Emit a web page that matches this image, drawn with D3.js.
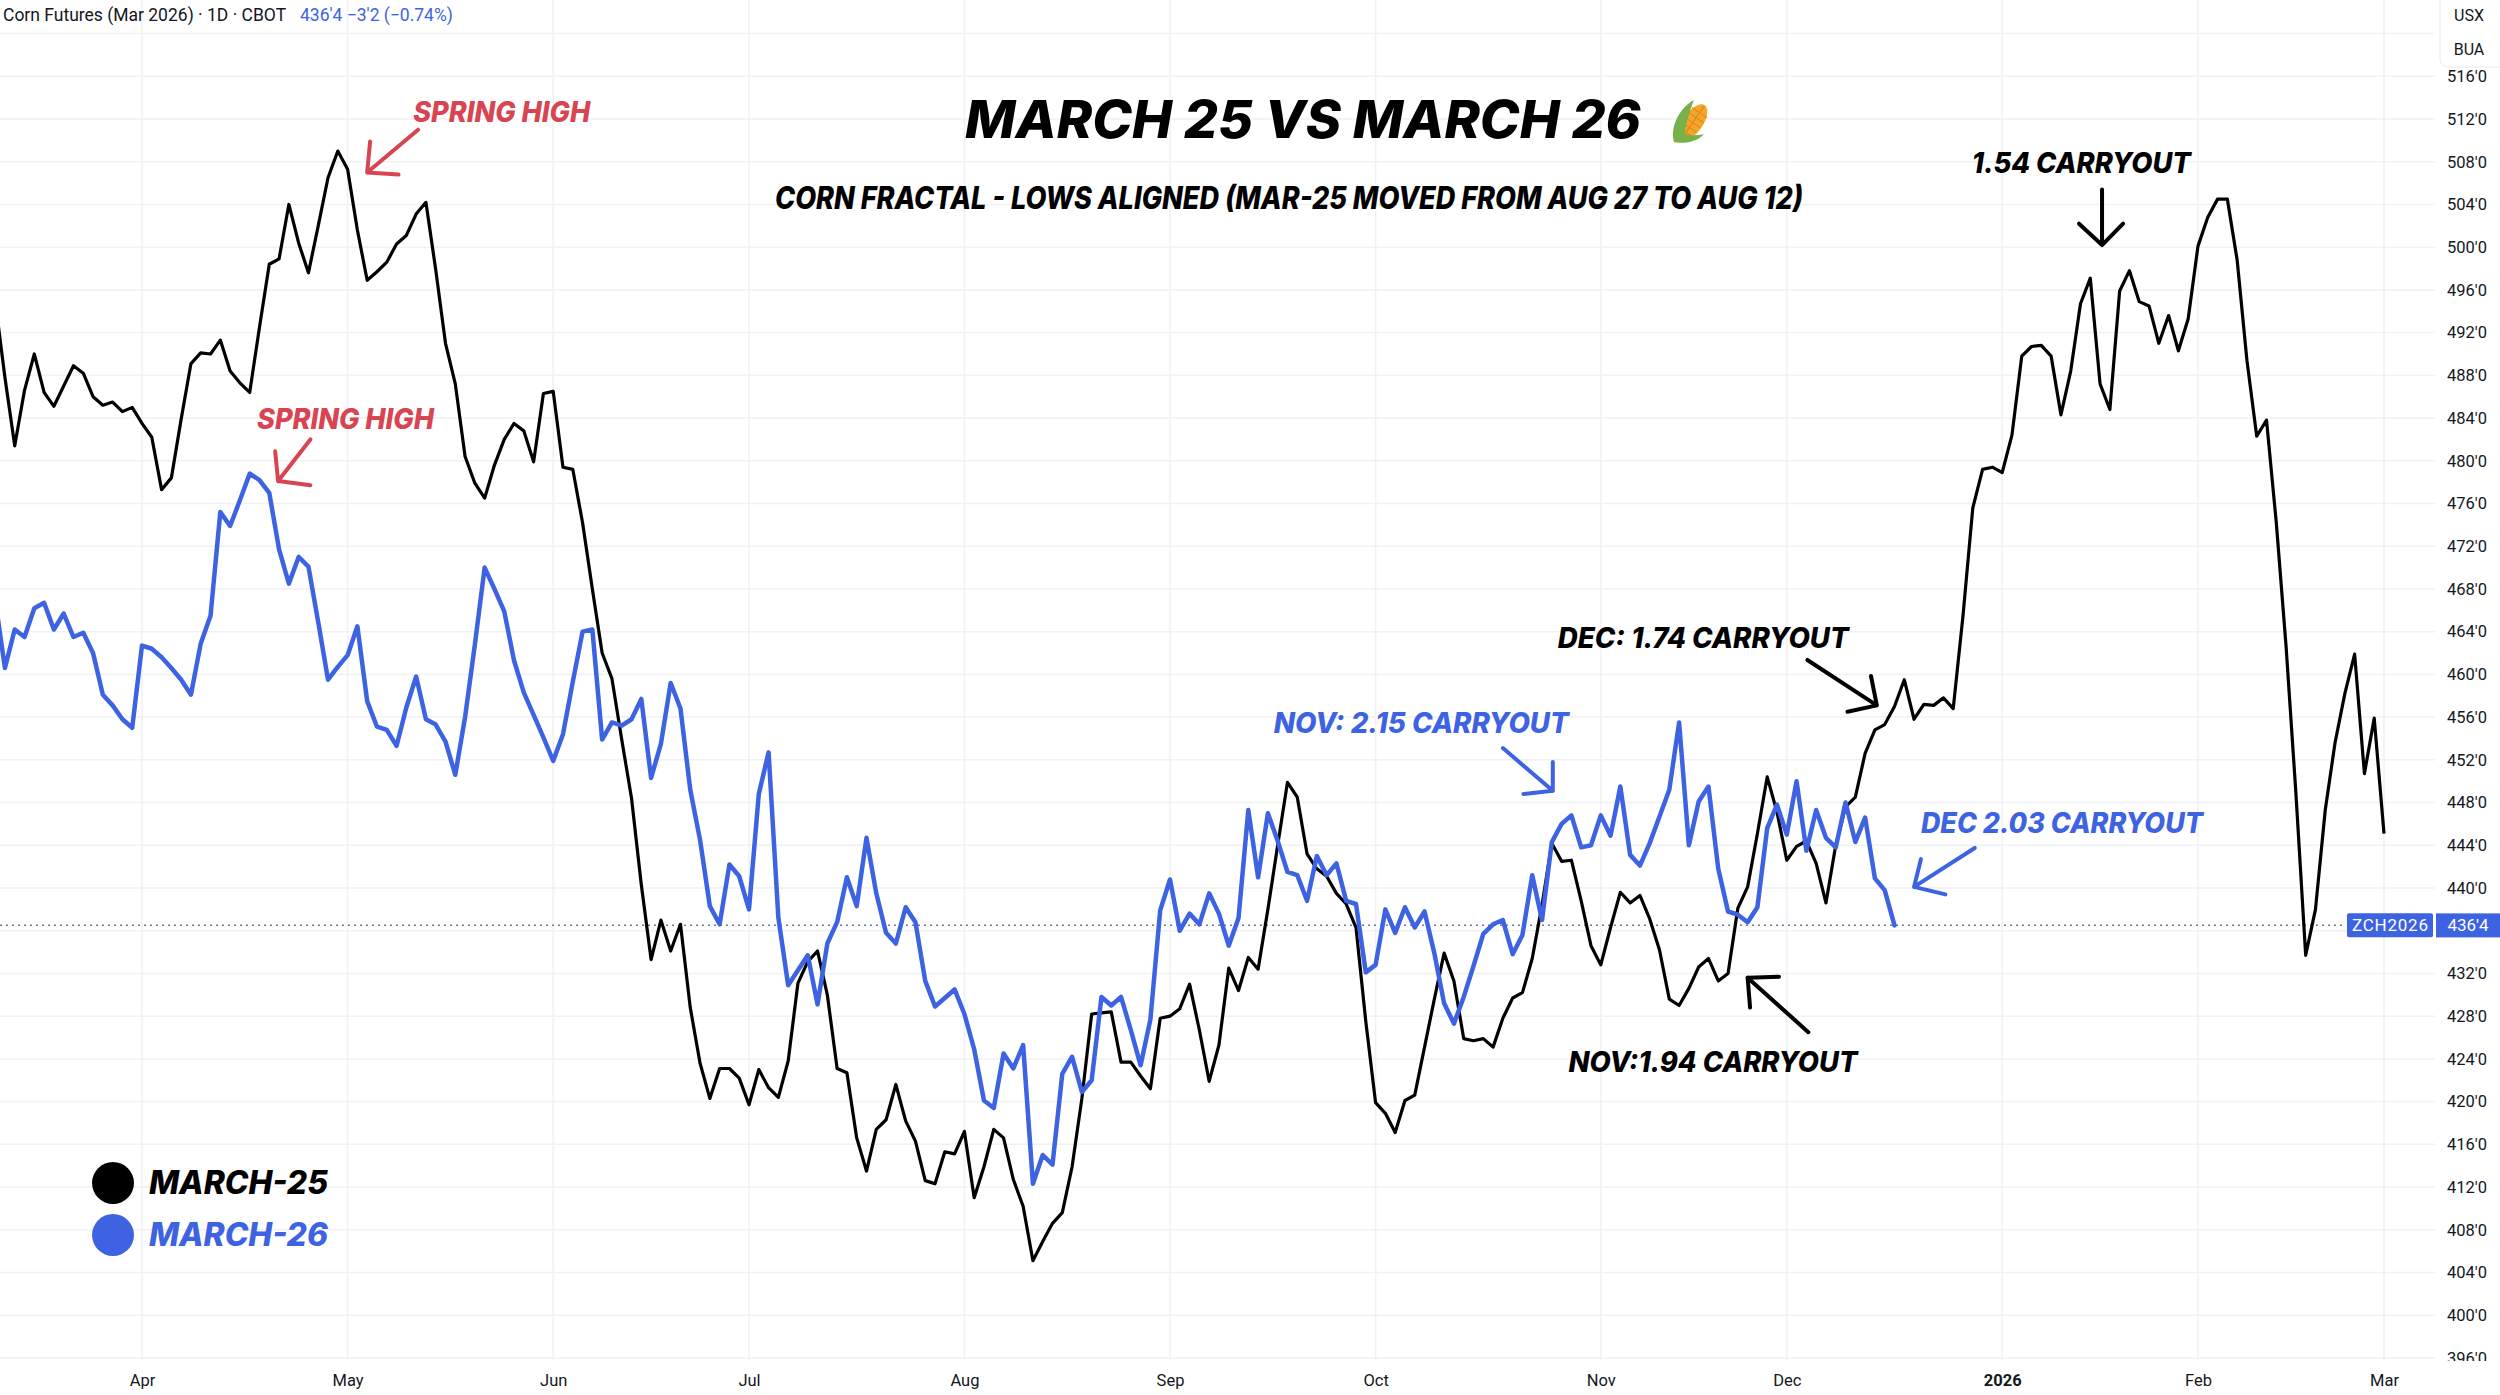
<!DOCTYPE html>
<html>
<head>
<meta charset="utf-8">
<script src="https://cdn.jsdelivr.net/npm/d3@7"></script>
<style>
  body { margin: 0; background: #fff; }
  svg { display: block; }
  text { font-family: Roboto, "Noto Sans", sans-serif; }
  .note { font-family: Inter, "Open Sans", sans-serif; font-weight: 800; font-style: italic; }
</style>
</head>
<body>
<svg id="chart" width="2500" height="1395"></svg>
<script>
// x is a trading-session index, 0 = first session of April 2025
const monthTickIdx = [0, 21, 42, 62, 84, 105, 126, 149, 168, 190, 210, 229];
const monthLabels = ["Apr", "May", "Jun", "Jul", "Aug", "Sep", "Oct", "Nov", "Dec", "2026", "Feb", "Mar"];
const priceTicks = [396, 400, 404, 408, 412, 416, 420, 424, 428, 432, 436, 440, 444, 448, 452, 456,
  460, 464, 468, 472, 476, 480, 484, 488, 492, 496, 500, 504, 508, 512, 516, 520];

// March-25 contract, shifted so its lows line up (one value per session)
const march25Start = -15;
const march25 = [
  495, 487.8, 481.4, 486.6, 490, 486.4, 485.1, 487, 488.9, 488.2,
  486, 485.2, 485.5, 484.6, 485, 483.5, 482.2, 477.3, 478.4, 483.9,
  489.1, 490.1, 490, 491.3, 488.4, 487.3, 486.4, 492.5, 498.4, 498.9,
  504, 500.4, 497.6, 502, 506.5, 509, 507.3, 501.6, 496.9, 497.7,
  498.6, 500.3, 501.1, 503.1, 504.2, 497.9, 491, 487.2, 480.4, 477.9,
  476.5, 479.6, 482, 483.5, 482.8, 479.9, 486.3, 486.5, 479.4, 479.2,
  474.2, 468, 462, 459.6, 453.9, 448.4, 440.3, 433.3, 437, 434.1,
  436.6, 428.8, 423.6, 420.3, 423.1, 423.1, 422.2, 419.7, 423, 421.3,
  420.4, 423.8, 431.1, 433.1, 434.1, 430, 423.1, 422.7, 416.6, 413.5,
  417.4, 418.3, 421.6, 418.2, 416.3, 412.6, 412.3, 415.3, 415.1, 417.2,
  411, 413.9, 417.4, 416.6, 412.7, 410.2, 405.1, 406.9, 408.6, 409.6,
  413.9, 420.3, 428.2, 428.3, 428.4, 423.7, 423.7, 422.4, 421.2, 427.8,
  428, 428.7, 431, 426.7, 421.9, 425.3, 432.5, 430.4, 433.5, 432.4,
  438, 444, 449.9, 448.5, 443.2, 441.8, 441.1, 439.5, 438.5, 436.3,
  427.5, 419.9, 418.9, 417.1, 420.1, 420.6, 425.1, 429.6, 433.9, 431.3,
  425.9, 425.7, 425.9, 425.1, 427.8, 429.7, 430.2, 433.4, 438.4, 444.2,
  442.5, 442.6, 438.8, 434.6, 432.8, 436.3, 439.6, 438.6, 439.3, 437.1,
  434.2, 429.6, 429, 430.6, 432.6, 433.4, 431.3, 432, 438.1, 440.1,
  445.1, 450.4, 447.1, 442.6, 443.9, 444.4, 442.3, 438.6, 444, 447.6,
  448.5, 452.6, 454.8, 455.3, 457, 459.5, 455.8, 457.2, 457.1, 457.8,
  456.8, 465.5, 475.6, 479.2, 479.4, 478.9, 482.4, 489.8, 490.7, 490.8,
  489.8, 484.3, 488.4, 494.7, 497.1, 487.2, 484.8, 495.9, 497.8, 494.9,
  494.5, 491, 493.6, 490.3, 493.3, 500.1, 502.8, 504.5, 504.5, 498.8,
  489.4, 482.3, 483.8, 474.2, 462.6, 448.9, 433.7, 438, 447.3, 453.6,
  458.2, 461.9, 450.7, 455.9, 445.1
];

// March-26 contract (current)
const march26Start = -15;
const march26 = [
  467, 460.6, 464.2, 463.5, 466.2, 466.7, 464.2, 465.7, 463.5, 463.9,
  462, 458.1, 457.1, 455.8, 455, 462.7, 462.4, 461.6, 460.6, 459.5,
  458.1, 462.9, 465.5, 475.2, 473.9, 476.3, 478.8, 478.2, 477, 471.7,
  468.5, 471, 470.1, 464.9, 459.5, 460.7, 461.8, 464.5, 457.5, 455.1,
  454.8, 453.3, 456.9, 459.8, 455.8, 455.3, 453.7, 450.6, 456, 462.8,
  470, 468, 465.9, 461.3, 458.3, 456.2, 454.1, 451.9, 454.4, 459.3,
  464, 464.2, 453.9, 455.5, 455.2, 455.8, 457.7, 450.3, 453.5, 459.2,
  456.8, 449.2, 444.5, 438.3, 436.6, 442.2, 441.1, 438, 448.8, 452.7,
  437.2, 430.9, 432.3, 433.7, 429.1, 434.8, 436.8, 441, 438.3, 444.7,
  439.5, 435.8, 434.8, 438.2, 436.8, 431.3, 428.9, 429.7, 430.5, 428.2,
  424.9, 420.1, 419.4, 424.5, 423.1, 425.3, 412.3, 415, 414.1, 422.6,
  424.2, 420.9, 422, 429.8, 429, 429.8, 426.7, 423.4, 427.7, 437.9,
  440.8, 436, 437.6, 436.6, 439.5, 437.6, 434.6, 437.2, 447.3, 441,
  447, 444.4, 441.5, 441.2, 438.8, 443, 441.2, 442.3, 438.8, 438.5,
  432.1, 432.8, 438, 435.8, 438.2, 436.3, 437.8, 433.9, 429.2, 427.3,
  429.8, 432.7, 435.7, 436.6, 437, 433.8, 435.6, 441.2, 437, 444.3,
  446, 446.8, 443.8, 444, 446.8, 444.9, 449.5, 443.1, 442.1, 444.2,
  446.7, 449.2, 455.5, 444, 448.1, 449.5, 441.8, 437.8, 437.5, 436.8,
  438.2, 445.6, 447.8, 445, 450, 443.5, 447.3, 444.7, 443.8, 448,
  444.3, 446.6, 440.9, 439.8, 436.5
];
const lastPrice = 436.5;

const BLUE = "#3d63e3", RED = "#d84452", INK = "#131722";

// annotations in chart coordinates: [session, price]
const notes = [
  { text: "SPRING HIGH", color: RED, at: [27.7, 512.6], w: 177, size: 28,
    arrow: [[28.2, 511.0], [23.0, 507.0], [23.3, 509.9], [26.2, 506.8]] },
  { text: "SPRING HIGH", color: RED, at: [11.75, 483.9], w: 177, size: 28,
    arrow: [[17.2, 482.0], [13.9, 478.1], [13.6, 480.9], [17.2, 477.7]] },
  { text: "1.54 CARRYOUT", color: "#000", at: [186.9, 507.9], w: 219, size: 29,
    arrow: [[200.2, 505.4], [200.2, 500.2], [197.85, 502.2], [202.35, 502.2]] },
  { text: "DEC: 1.74 CARRYOUT", color: "#000", at: [144.6, 463.4], w: 291, size: 28,
    arrow: [[170.1, 461.35], [177.2, 457.1], [176.6, 459.85], [174.2, 456.5]] },
  { text: "NOV: 2.15 CARRYOUT", color: BLUE, at: [115.6, 455.4], w: 295, size: 28,
    arrow: [[139.0, 453.1], [144.1, 449.1], [144.1, 451.8], [141.1, 448.8]] },
  { text: "NOV:1.94 CARRYOUT", color: "#000", at: [145.7, 423.7], w: 289, size: 28,
    arrow: [[170.2, 426.5], [164.0, 431.6], [164.25, 428.8], [167.2, 431.7]] },
  { text: "DEC 2.03 CARRYOUT", color: BLUE, at: [181.7, 446.1], w: 282, size: 28,
    arrow: [[187.2, 443.75], [181.0, 440.1], [181.7, 442.7], [184.2, 439.4]] }
];

const legendItems = [
  { label: "MARCH-25", color: "#000" },
  { label: "MARCH-26", color: BLUE }
];

const svg = d3.select("#chart");
const plotW = 2435, plotH = 1360;

const x = d3.scaleLinear().domain([0, 229]).range([142, 2384]);
const y = d3.scaleLinear().domain([400, 516]).range([1315.2, 76.3]);

const toPoints = (start, vals) => vals.map((v, k) => ({ i: start + k, v: v }));

const defs = svg.append("defs");
defs.append("clipPath").attr("id", "plotClip")
  .append("rect").attr("x", 0).attr("y", 0).attr("width", plotW).attr("height", plotH);

// grid
const grid = svg.append("g").attr("stroke", "#f0f1f4").attr("stroke-width", 1.5);
grid.selectAll(".hg").data(priceTicks).enter().append("line")
  .attr("x1", 0).attr("x2", plotW)
  .attr("y1", d => y(d)).attr("y2", d => y(d));
grid.selectAll(".vg").data(monthTickIdx).enter().append("line")
  .attr("x1", d => x(d)).attr("x2", d => x(d))
  .attr("y1", 0).attr("y2", plotH);

// last price dotted line
svg.append("line")
  .attr("x1", 0).attr("x2", 2346)
  .attr("y1", y(lastPrice)).attr("y2", y(lastPrice))
  .attr("stroke", "#6f7a99").attr("stroke-width", 1.5)
  .attr("stroke-dasharray", "2,4");

// series
const line = d3.line().x(d => x(d.i)).y(d => y(d.v));
const lines = svg.append("g").attr("clip-path", "url(#plotClip)");
lines.append("path")
  .datum(toPoints(march25Start, march25))
  .attr("d", line).attr("fill", "none")
  .attr("stroke", "#000").attr("stroke-width", 3.2)
  .attr("stroke-linejoin", "round");
lines.append("path")
  .datum(toPoints(march26Start, march26))
  .attr("d", line).attr("fill", "none")
  .attr("stroke", BLUE).attr("stroke-width", 4.5)
  .attr("stroke-linejoin", "round").attr("stroke-linecap", "round");

// price axis (clip is in the axis group's own coordinates)
defs.append("clipPath").attr("id", "axisClip")
  .append("rect").attr("x", -11).attr("y", 0).attr("width", 64).attr("height", plotH + 1);
const yAxis = svg.append("g")
  .attr("transform", "translate(2447,0)")
  .attr("clip-path", "url(#axisClip)")
  .call(d3.axisRight(y).tickValues(priceTicks).tickFormat(d => d + "'0").tickSize(0).tickPadding(0));
yAxis.select(".domain").remove();
yAxis.selectAll("text")
  .attr("fill", INK).style("font-size", "16.5px").style("font-family", "Roboto, sans-serif");

// time axis
const xAxis = svg.append("g")
  .attr("transform", `translate(0,${plotH})`)
  .call(d3.axisBottom(x).tickValues(monthTickIdx).tickFormat((d, k) => monthLabels[k]).tickSize(0));
xAxis.select(".domain").remove();
xAxis.selectAll("text")
  .attr("y", 20).attr("dy", "0.35em")
  .attr("fill", INK).style("font-size", "16.5px").style("font-family", "Roboto, sans-serif")
  .style("font-weight", (d, k) => monthLabels[k] === "2026" ? 700 : 400);

// currency box
svg.append("rect").attr("x", 2440).attr("y", -8).attr("width", 70).attr("height", 75)
  .attr("rx", 8).attr("fill", "#fff").attr("stroke", "#e7e9ef");
svg.append("text").attr("x", 2469).attr("y", 15).attr("dy", "0.35em")
  .attr("text-anchor", "middle").attr("fill", INK).style("font-size", "16px").text("USX");
svg.append("text").attr("x", 2469).attr("y", 49).attr("dy", "0.35em")
  .attr("text-anchor", "middle").attr("fill", INK).style("font-size", "16px").text("BUA");

// last price labels
const ly = y(lastPrice);
svg.append("rect").attr("x", 2347).attr("y", ly - 12).attr("width", 86).attr("height", 24)
  .attr("rx", 2).attr("fill", BLUE);
svg.append("text").attr("x", 2390).attr("y", ly).attr("dy", "0.35em")
  .attr("text-anchor", "middle").attr("fill", "#fff").style("font-size", "17px")
  .attr("textLength", 76).attr("lengthAdjust", "spacing").text("ZCH2026");
svg.append("rect").attr("x", 2436).attr("y", ly - 12).attr("width", 64).attr("height", 24)
  .attr("fill", BLUE);
svg.append("text").attr("x", 2468).attr("y", ly).attr("dy", "0.35em")
  .attr("text-anchor", "middle").attr("fill", "#fff").style("font-size", "17px").text("436'4");

// header
const head = svg.append("text").attr("x", 3).attr("y", 15).attr("dy", "0.35em")
  .style("font-size", "17.5px");
head.append("tspan").attr("fill", INK).text("Corn Futures (Mar 2026) · 1D · CBOT");
head.append("tspan").attr("x", 300).attr("fill", BLUE).text("436'4  −3'2 (−0.74%)");

// title + subtitle
svg.append("text").attr("class", "note")
  .attr("x", 965).attr("y", 120).attr("dy", "0.35em")
  .attr("textLength", 676).attr("lengthAdjust", "spacingAndGlyphs")
  .style("font-size", "52px").attr("fill", "#000")
  .text("MARCH 25 VS MARCH 26");
svg.append("text").attr("class", "note")
  .attr("x", 775).attr("y", 198).attr("dy", "0.35em")
  .attr("textLength", 1028).attr("lengthAdjust", "spacingAndGlyphs")
  .style("font-size", "31px").attr("fill", "#000")
  .text("CORN FRACTAL - LOWS ALIGNED (MAR-25 MOVED FROM AUG 27 TO AUG 12)");

// corn icon beside the title
const corn = svg.append("g").attr("transform", "translate(1691,125) rotate(35)");
corn.append("ellipse").attr("rx", 10).attr("ry", 21).attr("cy", -3).attr("fill", "#f3a62b");
[-12, -6, 0, 6, 12].forEach(dy => corn.append("line")
  .attr("x1", -9).attr("x2", 9).attr("y1", dy - 3).attr("y2", dy - 3)
  .attr("stroke", "#dd8a16").attr("stroke-width", 1.2));
corn.append("line").attr("x1", 0).attr("x2", 0).attr("y1", -23).attr("y2", 17)
  .attr("stroke", "#dd8a16").attr("stroke-width", 1.2);
corn.append("path").attr("d", "M-4,24 C-18,12 -18,-10 -12,-22 C-8,-8 -4,6 2,14 Z").attr("fill", "#78b04a");
corn.append("path").attr("d", "M-4,24 C4,20 14,12 16,0 C10,6 4,10 -2,12 Z").attr("fill", "#78b04a");

// annotations
const ann = svg.append("g");
notes.forEach(n => {
  ann.append("text").attr("class", "note")
    .attr("x", x(n.at[0])).attr("y", y(n.at[1])).attr("dy", "0.35em")
    .attr("textLength", n.w).attr("lengthAdjust", "spacingAndGlyphs")
    .style("font-size", n.size + "px").attr("fill", n.color)
    .text(n.text);
  const [s, t, a, b] = n.arrow.map(p => [x(p[0]), y(p[1])]);
  ann.append("path")
    .attr("d", `M${s}L${t}M${a}L${t}L${b}`)
    .attr("fill", "none").attr("stroke", n.color).attr("stroke-width", 4)
    .attr("stroke-linecap", "round").attr("stroke-linejoin", "round");
});

// legend
const legend = svg.append("g").attr("transform", "translate(113,1183)");
const li = legend.selectAll("g").data(legendItems).enter().append("g")
  .attr("transform", (d, k) => `translate(0,${k * 52})`);
li.append("circle").attr("r", 21).attr("fill", d => d.color);
li.append("text").attr("class", "note")
  .attr("x", 36).attr("dy", "0.35em")
  .attr("textLength", 179).attr("lengthAdjust", "spacingAndGlyphs")
  .style("font-size", "32px").attr("fill", d => d.color)
  .text(d => d.label);
</script>
</body>
</html>
